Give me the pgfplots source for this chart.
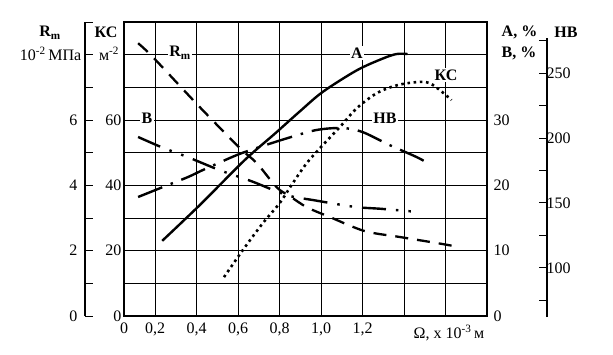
\documentclass[border=0pt]{standalone}
\usepackage{fontspec}
\setmainfont{Liberation Serif}
\usepackage{pgfplots}
\pgfplotsset{compat=1.18}
\pgfplotsset{
  base/.style={scale only axis, width=363pt, height=294pt, at={(124pt,38pt)}, anchor=south west,
    xmin=0.05, xmax=1.8},
}

\begin{document}
\begin{tikzpicture}
\path[use as bounding box] (0pt,0pt) rectangle (613pt,354pt);
% main axis: KC scale, grid and frame
\begin{axis}[base, ymin=0, ymax=90,
  xtick={0.05,0.2,0.4,0.6,0.8,1.0,1.2,1.4,1.6},
  xticklabels={0,{0,2},{0,4},{0,6},{0,8},{1,0},{1,2},{},{}},
  ytick={0,10,20,30,40,50,60,70,80}, yticklabels={0,{},20,{},40,{},60,{},{}},
  grid=major, major grid style={draw=black, line width=0.9pt},
  tick style={draw=none},
  axis line style={draw=black, line width=1.5pt},
  ticklabel style={font=\fontsize{16}{18}\selectfont},
  xticklabel style={yshift=-3pt}, yticklabel style={xshift=1pt}]
\addplot[black, line width=2.6pt, dash pattern=on 2.6pt off 3.6pt, smooth] coordinates {
(0.532,11.9) (0.623,20.2) (0.719,28.4) (0.801,34.6) (0.864,40.7) (0.931,46.8) (1.008,52.3)
(1.090,57.8) (1.172,63.6) (1.268,68.2) (1.364,70.6) (1.460,71.6) (1.523,71.3) (1.585,68.5) (1.629,66.1)};
\end{axis}
% Rm curve
\begin{axis}[base, hide axis, ymin=0, ymax=9]
\addplot[black, line width=2.3pt, dash pattern=on 13pt off 9pt, smooth] coordinates {
(0.118,8.35) (0.19,7.92) (0.416,6.39) (0.609,5.14) (0.69,4.68) (0.786,3.94) (0.849,3.67)
(0.931,3.33) (1.042,3.03) (1.21,2.60) (1.378,2.42) (1.561,2.23) (1.667,2.11)};
\end{axis}
% HB curve
\begin{axis}[base, hide axis, ymin=63, ymax=289.3]
\addplot[black, line width=2.4pt, dash pattern=on 26pt off 9pt on 2.5pt off 9pt, smooth] coordinates {
(0.118,154.6) (0.238,162.3) (0.359,170.0) (0.431,175.4) (0.594,186.9) (0.705,193.1) (0.840,200.0)
(0.979,206.2) (1.104,207.7) (1.200,204.6) (1.330,194.6) (1.460,185.4) (1.513,180.8)};
\end{axis}
% A, B curves with right labels
\begin{axis}[base, ymin=0, ymax=45, hide x axis,
  axis y line*=right, y axis line style={opacity=0},
  ytick={0,10,20,30}, yticklabels={0,10,20,30},
  major tick length=0pt, yticklabel style={xshift=3pt, font=\fontsize{16}{18}\selectfont}]
\addplot[black, line width=2.4pt, smooth] coordinates {
(0.234,11.5) (0.416,17.0) (0.633,23.9) (0.777,27.9) (0.897,31.3) (1.008,34.3) (1.172,37.6)
(1.297,39.4) (1.364,40.1) (1.417,40.1)};
\addplot[black, line width=2.4pt, dash pattern=on 24pt off 10pt on 2.5pt off 10pt on 2.5pt off 10pt, smooth] coordinates {
(0.118,27.4) (0.234,25.8) (0.359,24.3) (0.513,22.3) (0.667,20.6) (0.835,18.5) (0.970,17.7)
(1.162,16.7) (1.292,16.4) (1.475,15.9)};
\end{axis}
% Rm axis
\begin{axis}[scale only axis, width=10pt, height=294pt, at={(85pt,38pt)}, anchor=south west,
  xmin=0, xmax=1, ymin=0, ymax=9, hide x axis, axis y line*=left,
  tick align=inside, major tick length=8pt, tick style={black, line width=1pt},
  axis line style={line width=1.5pt},
  ytick={0,1,2,3,4,5,6,7,8,9}, yticklabels={0,{},2,{},4,{},6,{},{},{}},
  yticklabel style={xshift=-4pt, font=\fontsize{16}{18}\selectfont}]
\end{axis}
% HB axis
\begin{axis}[scale only axis, width=10pt, height=279pt, at={(537pt,37pt)}, anchor=south west,
  xmin=0, xmax=1, ymin=62.2, ymax=277, hide x axis, axis y line*=right,
  tick align=inside, major tick length=8pt, tick style={black, line width=1pt},
  axis line style={line width=1.5pt},
  ytick={75,100,125,150,175,200,225,250,275}, yticklabels={{},100,{},150,{},200,{},250,{}},
  yticklabel style={xshift=-4pt, font=\fontsize{16}{18}\selectfont}]
\end{axis}
% labels
\begin{scope}[every node/.style={font=\fontsize{16}{18}\selectfont, inner sep=1.5pt}]
\node at (50pt,321pt) {\textbf{R\textsubscript{m}}};
\node[anchor=east] at (83pt,300pt) {10\textsuperscript{-2}\,МПа};
\node at (106pt,322pt) {\textbf{КС}};
\node at (109pt,300pt) {м\textsuperscript{-2}};
\node[anchor=west] at (500pt,322pt) {\textbf{A, \%}};
\node[anchor=west] at (500pt,301pt) {\textbf{B, \%}};
\node at (566pt,322pt) {\textbf{HB}};
\node at (449pt,21pt) {Ω, x 10\textsuperscript{-3}\,м};
\node[fill=white] at (180pt,301pt) {\textbf{R\textsubscript{m}}};
\node[fill=white] at (357pt,301pt) {\textbf{A}};
\node[fill=white] at (147pt,236pt) {\textbf{B}};
\node[fill=white] at (385pt,236pt) {\textbf{HB}};
\node[fill=white] at (446pt,279pt) {\textbf{КС}};
\end{scope}
\end{tikzpicture}
\end{document}
